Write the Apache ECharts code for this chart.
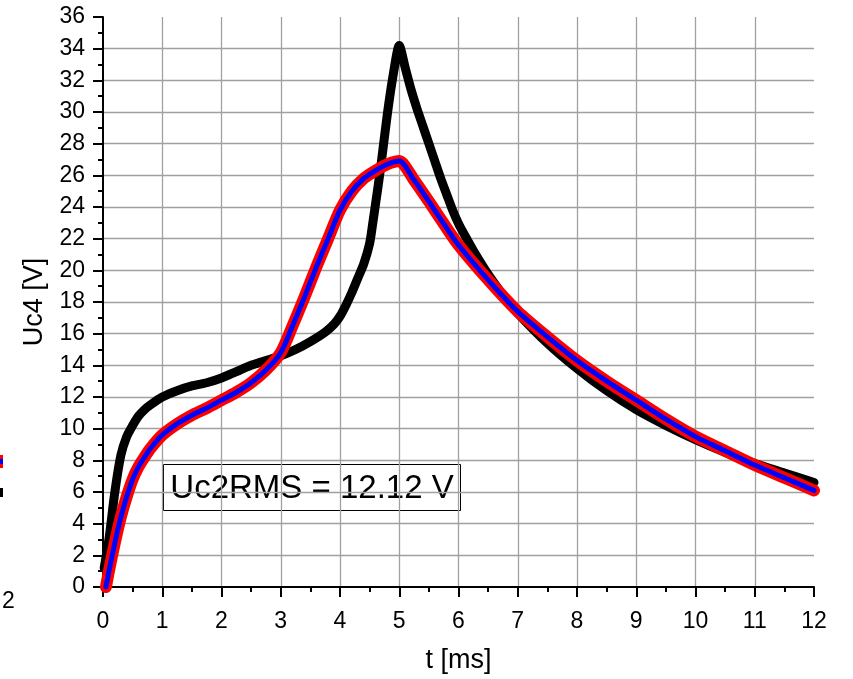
<!DOCTYPE html>
<html>
<head>
<meta charset="utf-8">
<script src="https://cdn.jsdelivr.net/npm/echarts@6/dist/echarts.min.js"></script>
<style>
  html, body { margin: 0; padding: 0; background: #fff; }
  #chart { width: 853px; height: 679px; }
</style>
</head>
<body>
<div id="chart"></div>
<script>
// measured curve (black)
const tMeas = [0.02, 0.1, 0.2, 0.3, 0.4, 0.5, 0.6, 0.7, 0.8, 1.0, 1.25, 1.5, 1.75, 2.0, 2.25, 2.5, 2.75, 3.0,
  3.25, 3.5, 3.75, 3.9, 4.0, 4.1, 4.2, 4.3, 4.4, 4.5, 4.55, 4.6, 4.65, 4.7, 4.8, 4.9, 5.0,
  5.1, 5.2, 5.3, 5.4, 5.5, 5.6, 5.7, 5.8, 5.9, 6.0, 6.1, 6.25, 6.5, 6.75, 7.0, 7.5, 8.0, 8.5, 9.0, 9.5, 10.0, 10.5, 11.0, 11.5, 12.0];
const uMeas = [1.2, 3.0, 6.0, 8.3, 9.5, 10.2, 10.8, 11.2, 11.5, 12.0, 12.4, 12.7, 12.9, 13.2, 13.6, 14.0, 14.3, 14.6,
  15.0, 15.5, 16.1, 16.6, 17.1, 17.8, 18.6, 19.5, 20.4, 21.7, 22.9, 24.2, 25.5, 26.9, 29.9, 32.4, 34.2,
  32.8, 31.4, 30.2, 29.1, 28.0, 26.9, 25.8, 24.8, 23.8, 22.95, 22.25, 21.25, 19.75, 18.45, 17.3, 15.4, 13.8, 12.4, 11.2, 10.2, 9.3, 8.5, 7.8, 7.2, 6.6];

// simulated curve (red outline, blue core)
const tSim = [0.05, 0.1, 0.2, 0.3, 0.4, 0.5, 0.6, 0.7, 0.8, 1.0, 1.25, 1.5, 1.75, 2.0, 2.25, 2.5, 2.75, 3.0,
  3.2, 3.4, 3.6, 3.8, 4.0, 4.2, 4.4, 4.6, 4.8, 5.0,
  5.25, 5.5, 5.75, 6.0, 6.5, 7.0, 7.5, 8.0, 8.5, 9.0, 9.5, 10.0, 10.5, 11.0, 11.5, 12.0];
const uSim = [0.0, 1.0, 2.8, 4.4, 5.7, 6.8, 7.6, 8.2, 8.75, 9.6, 10.3, 10.85, 11.3, 11.8, 12.3, 12.9, 13.7, 14.8,
  16.5, 18.3, 20.2, 22.0, 23.8, 25.0, 25.8, 26.3, 26.7, 26.9,
  25.7, 24.35, 22.95, 21.6, 19.4, 17.4, 15.8, 14.3, 13.0, 11.8, 10.6, 9.5, 8.6, 7.7, 6.9, 6.1];

const xTicks = [0, 12, 1];   // min, max, interval
const yTicks = [0, 36, 2];
const noteText = 'Uc2RMS = 12.12 V';

const FONT = 'Arial, "Liberation Sans", sans-serif';

function pairs(ts, us) {
  return ts.map((t, i) => [t, us[i]]);
}

const chart = echarts.init(document.getElementById('chart'), null, { renderer: 'canvas' });

function axisCommon(labelMargin) {
  return {
    type: 'value',
    axisLine: { show: true, onZero: false, lineStyle: { color: '#000', width: 2 } },
    axisTick: { show: true, inside: false, length: 10, lineStyle: { color: '#000', width: 2 } },
    minorTick: { show: true, splitNumber: 2, length: 5, lineStyle: { color: '#000', width: 2 } },
    splitLine: { show: true, showMinLine: false, showMaxLine: false, lineStyle: { color: '#a0a0a0', width: 1.3 } },
    axisLabel: { color: '#000', fontSize: 23, fontFamily: FONT, margin: labelMargin },
    nameTextStyle: { color: '#000', fontSize: 27, fontFamily: FONT },
    nameLocation: 'middle'
  };
}

const option = {
  animation: false,
  backgroundColor: '#fff',
  grid: { left: 103, right: 39, top: 17, bottom: 89, containLabel: false },
  xAxis: Object.assign(axisCommon(23), {
    min: xTicks[0], max: xTicks[1], interval: xTicks[2],
    name: 't [ms]', nameGap: 60
  }),
  yAxis: Object.assign(axisCommon(18), {
    min: yTicks[0], max: yTicks[1], interval: yTicks[2],
    name: 'Uc4 [V]', nameGap: 49
  }),
  series: [
    {
      type: 'line', data: pairs(tMeas, uMeas), showSymbol: false, clip: true, smooth: 0.25,
      lineStyle: { color: '#000', width: 9, join: 'round', cap: 'round' }
    },
    {
      type: 'line', data: pairs(tSim, uSim), showSymbol: false, clip: true, smooth: 0.25,
      lineStyle: { color: '#ff0000', width: 12, join: 'round', cap: 'round' }
    },
    {
      type: 'line', data: pairs(tSim, uSim), showSymbol: false, clip: true, smooth: 0.25,
      lineStyle: { color: '#0000ff', width: 5, join: 'round', cap: 'round' }
    }
  ],
  graphic: [
    {
      type: 'group', left: 163, top: 464,
      children: [
        { type: 'rect', shape: { x: 0, y: 0, width: 297, height: 46 },
          style: { fill: '#fff', stroke: '#000', lineWidth: 1 } },
        { type: 'text', x: 148.5, y: 24,
          style: { text: noteText, fill: '#000', font: '33px ' + FONT, textAlign: 'center', textVerticalAlign: 'middle' } }
      ]
    },
    // pieces of the neighbouring panel cut off at the left edge
    { type: 'text', left: 2, top: 590, style: { text: '2', fill: '#000', font: '23px ' + FONT } },
    { type: 'rect', shape: { x: 0, y: 455, width: 3, height: 13 }, style: { fill: '#ff0000' } },
    { type: 'rect', shape: { x: 0, y: 459, width: 3, height: 5 }, style: { fill: '#0000ff' } },
    { type: 'rect', shape: { x: 0, y: 488, width: 3, height: 9 }, style: { fill: '#000' } }
  ]
};

chart.setOption(option);
</script>
</body>
</html>
